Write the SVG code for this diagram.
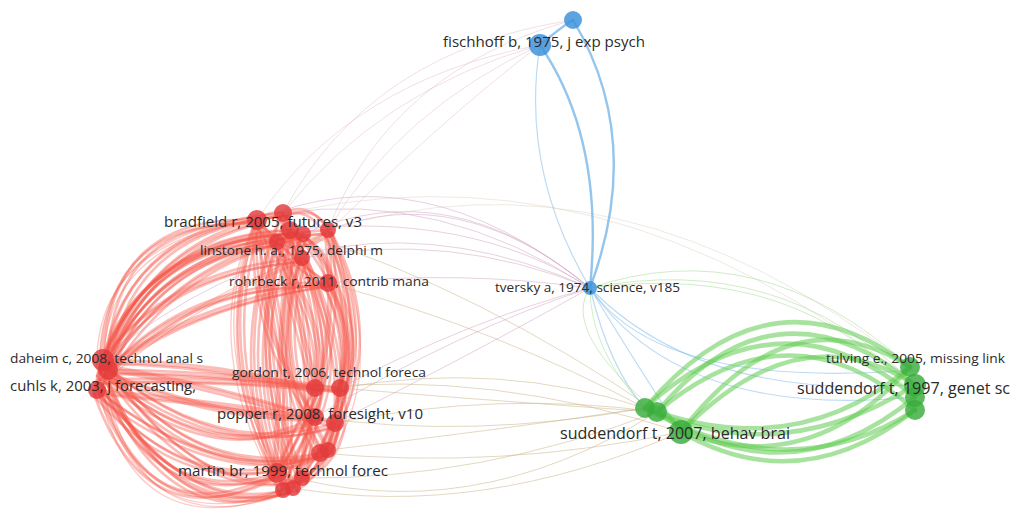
<svg xmlns="http://www.w3.org/2000/svg" width="1011" height="512" viewBox="0 0 1011 512">
  <style>
    .lbl { font-family: "Open Sans", "Liberation Sans", sans-serif; fill: #2b2b2b; }
    .e { fill: none; stroke-linecap: round; }
    .er { stroke: #f4584a; stroke-opacity: 0.4; stroke-width: 2.6; }
    .er2 { stroke: #f4584a; stroke-opacity: 0.3; stroke-width: 1.4; }
    .rb { stroke: #cfa1bf; stroke-opacity: 0.5; stroke-width: 1; }
    .rf { stroke: #dcb2b8; stroke-opacity: 0.4; stroke-width: 1; }
    .rg { stroke: #c8b184; stroke-opacity: 0.5; stroke-width: 1; }
    .rgr { stroke: #d6c7b6; stroke-opacity: 0.4; stroke-width: 1; }
    .bl { stroke: #5aa6e4; stroke-opacity: 0.65; stroke-width: 2.4; }
    .bl2 { stroke: #86bde9; stroke-opacity: 0.55; stroke-width: 1.2; }
    .gt { stroke: #a8dc98; stroke-opacity: 0.55; stroke-width: 1; }
    .gg { stroke: #5fcc4e; stroke-opacity: 0.55; stroke-width: 4.5; }
    .nr { fill: #e23a3c; fill-opacity: 0.82; }
    .nb { fill: #3f93dc; fill-opacity: 0.85; }
    .ng { fill: #38ac3c; fill-opacity: 0.82; }
  </style>

  <defs>
    <g id="red-bundle">
      <!-- daheim/cuhls to the upper group -->
      <path class="e er" d="M103,360 Q110,213 257,220"/>
      <path class="e er" d="M105,365 Q125,225 283,213"/>
      <path class="e er" d="M100,372 Q140,240 290,230"/>
      <path class="e er" d="M108,370 Q150,255 277,242"/>
      <path class="e er" d="M97,390 Q120,240 303,234"/>
      <path class="e er" d="M103,360 Q165,270 302,258"/>
      <path class="e er" d="M105,368 Q160,240 328,230"/>
      <path class="e er" d="M100,380 Q180,280 328,283"/>
      <path class="e er" d="M108,365 Q200,300 328,283"/>
      <path class="e er" d="M97,388 Q135,250 257,220"/>
      <path class="e er" d="M103,362 Q150,235 290,230"/>
      <path class="e er" d="M106,372 Q175,260 303,234"/>
      <path class="e er2" d="M100,366 Q95,230 283,213"/>
      <path class="e er2" d="M104,376 Q190,300 302,258"/>
      <!-- daheim/cuhls to martin group -->
      <path class="e er" d="M97,390 Q150,540 277,473"/>
      <path class="e er" d="M103,375 Q170,530 283,490"/>
      <path class="e er" d="M100,385 Q185,520 293,488"/>
      <path class="e er" d="M108,370 Q200,500 302,478"/>
      <path class="e er" d="M103,360 Q190,480 320,453"/>
      <path class="e er" d="M97,392 Q200,510 328,450"/>
      <path class="e er" d="M105,380 Q160,510 277,473"/>
      <path class="e er" d="M100,372 Q215,470 315,417"/>
      <path class="e er" d="M108,368 Q220,460 335,423"/>
      <path class="e er" d="M97,390 Q220,485 320,453"/>
      <path class="e er2" d="M100,378 Q135,545 283,490"/>
      <!-- daheim/cuhls to gordon/popper -->
      <path class="e er" d="M103,360 Q210,360 315,388"/>
      <path class="e er" d="M108,370 Q220,370 340,388"/>
      <path class="e er" d="M97,390 Q210,400 315,417"/>
      <path class="e er" d="M105,365 Q220,385 335,423"/>
      <path class="e er" d="M100,380 Q210,375 340,388"/>
      <path class="e er" d="M108,372 Q210,415 315,417"/>
      <!-- upper group to lower groups -->
      <path class="e er" d="M257,220 Q215,350 277,473"/>
      <path class="e er" d="M283,213 Q225,350 283,490"/>
      <path class="e er" d="M290,230 Q240,360 293,488"/>
      <path class="e er" d="M277,242 Q250,360 302,478"/>
      <path class="e er" d="M303,234 Q260,350 320,453"/>
      <path class="e er" d="M302,258 Q270,360 328,450"/>
      <path class="e er" d="M328,230 Q370,350 320,453"/>
      <path class="e er" d="M328,283 Q370,380 302,478"/>
      <path class="e er" d="M290,230 Q360,360 328,450"/>
      <path class="e er" d="M283,213 Q350,340 315,417"/>
      <path class="e er" d="M257,220 Q330,320 315,388"/>
      <path class="e er" d="M303,234 Q370,320 340,388"/>
      <path class="e er" d="M328,230 Q380,330 335,423"/>
      <path class="e er" d="M277,242 Q300,330 315,388"/>
      <path class="e er" d="M257,220 Q250,330 315,417"/>
      <path class="e er" d="M290,230 Q280,350 277,473"/>
      <path class="e er" d="M328,283 Q355,340 340,388"/>
      <path class="e er" d="M302,258 Q340,370 293,488"/>
      <path class="e er" d="M283,213 Q320,360 302,478"/>
      <path class="e er" d="M257,220 Q300,400 283,490"/>
      <path class="e er" d="M328,230 Q345,380 277,473"/>
      <path class="e er2" d="M257,220 Q200,340 283,490"/>
      <path class="e er2" d="M328,230 Q385,360 328,450"/>
      <!-- lower group internals -->
      <path class="e er" d="M315,388 Q290,440 277,473"/>
      <path class="e er" d="M340,388 Q350,450 302,478"/>
      <path class="e er" d="M335,423 Q330,460 293,488"/>
      <path class="e er" d="M315,417 Q300,450 283,490"/>
      <!-- upper group internals -->
      <path class="e er" d="M257,220 Q270,210 283,213"/>
      <path class="e er" d="M257,220 Q290,260 328,230"/>
      <path class="e er" d="M283,213 Q310,200 328,230"/>
      <path class="e er" d="M277,242 Q300,265 328,283"/>
      <path class="e er" d="M290,230 Q330,245 328,283"/>
    </g>
  </defs>

  <g id="connectors">
    <use href="#red-bundle"/>
    <use href="#red-bundle" transform="translate(4,3)"/>
    <use href="#red-bundle" transform="translate(-3,4)"/>

    <!-- red to tversky -->
    <path class="e rb" d="M328,230 Q460,180 590,288"/>
    <path class="e rb" d="M303,234 Q450,170 590,288"/>
    <path class="e rb" d="M257,220 Q420,150 590,288"/>
    <path class="e rb" d="M328,283 Q460,270 590,288"/>
    <path class="e rb" d="M302,258 Q450,230 590,288"/>
    <path class="e rb" d="M340,388 Q470,320 590,288"/>
    <path class="e rb" d="M315,417 Q460,330 590,288"/>
    <path class="e rb" d="M283,213 Q440,190 590,288"/>
    <path class="e rb" d="M290,230 Q470,210 590,288"/>
    <path class="e rb" d="M335,423 Q480,350 590,288"/>
    <path class="e rb" d="M103,360 Q330,170 590,288"/>
    <!-- red to fischhoff -->
    <path class="e rf" d="M283,213 Q380,90 540,45"/>
    <path class="e rf" d="M328,230 Q400,110 540,45"/>
    <path class="e rf" d="M257,220 Q350,80 540,45"/>
    <path class="e rf" d="M302,258 Q440,120 540,45"/>
    <path class="e rf" d="M283,213 Q370,50 573,20"/>
    <path class="e rf" d="M328,230 Q390,70 573,20"/>
    <!-- red to green -->
    <path class="e rg" d="M340,388 Q500,360 645,408"/>
    <path class="e rg" d="M335,423 Q500,390 657,412"/>
    <path class="e rg" d="M328,450 Q500,430 645,408"/>
    <path class="e rg" d="M302,478 Q480,480 657,412"/>
    <path class="e rg" d="M293,488 Q480,520 681,432"/>
    <path class="e rg" d="M320,453 Q500,470 681,432"/>
    <path class="e rg" d="M328,283 Q500,330 645,408"/>
    <path class="e rg" d="M303,234 Q480,290 657,412"/>
    <path class="e rg" d="M315,417 Q470,440 645,408"/>
    <path class="e rg" d="M277,473 Q470,530 657,412"/>
    <path class="e rg" d="M340,388 Q480,400 657,412"/>
    <path class="e rg" d="M315,388 Q490,370 681,432"/>
    <path class="e rgr" d="M328,230 Q620,140 910,367"/>
    <path class="e rgr" d="M257,220 Q600,130 915,385"/>

    <!-- blue -->
    <path class="e bl" d="M540,45 Q605,140 590,288"/>
    <path class="e bl" d="M573,20 Q645,140 590,288"/>
    <path class="e bl" d="M540,45 Q560,28 573,20"/>
    <path class="e bl2" d="M540,45 Q520,170 590,288"/>
    <path class="e bl2" d="M590,288 Q680,420 915,397"/>
    <path class="e bl2" d="M590,288 Q700,400 910,385"/>
    <path class="e bl2" d="M590,288 Q660,390 913,370"/>
    <path class="e bl2" d="M590,288 Q610,370 645,408"/>
    <path class="e bl2" d="M590,288 Q640,370 681,432"/>

    <!-- green thin -->
    <path class="e gt" d="M910,367 Q760,230 590,288"/>
    <path class="e gt" d="M915,385 Q780,250 590,288"/>
    <path class="e gt" d="M915,397 Q800,260 590,288"/>
    <path class="e gt" d="M645,408 Q590,350 590,288"/>
    <path class="e gt" d="M657,412 Q560,330 590,288"/>

    <!-- green bundle -->
    <path class="e gg" d="M645,408 Q770,260 910,367"/>
    <path class="e gg" d="M657,412 Q775,270 915,385"/>
    <path class="e gg" d="M645,408 Q780,285 915,397"/>
    <path class="e gg" d="M681,432 Q790,290 910,367"/>
    <path class="e gg" d="M657,412 Q790,300 915,410"/>
    <path class="e gg" d="M681,432 Q800,310 915,385"/>
    <path class="e gg" d="M681,432 Q800,500 915,410"/>
    <path class="e gg" d="M657,412 Q790,500 915,397"/>
    <path class="e gg" d="M645,408 Q790,490 915,410"/>
    <path class="e gg" d="M681,432 Q810,480 910,367"/>
    <path class="e gg" d="M645,408 Q780,470 915,385"/>
    <path class="e gg" d="M657,412 Q800,460 910,367"/>
    <path class="e gg" d="M645,408 Q660,400 681,432"/>
  </g>

  <!-- red cluster nodes -->
  <g id="n-bradfield"><circle class="nr" cx="257" cy="220" r="10"/><circle class="nr" cx="283" cy="213" r="9"/><circle class="nr" cx="290" cy="230" r="9"/><circle class="nr" cx="277" cy="242" r="8"/><circle class="nr" cx="303" cy="234" r="8"/><circle class="nr" cx="328" cy="230" r="8"/></g>
  <g id="n-linstone"><circle class="nr" cx="302" cy="258" r="8"/></g>
  <g id="n-rohrbeck"><circle class="nr" cx="328" cy="283" r="9"/></g>
  <g id="n-daheim"><circle class="nr" cx="103" cy="360" r="11"/><circle class="nr" cx="108" cy="370" r="10"/></g>
  <g id="n-cuhls"><circle class="nr" cx="97" cy="390" r="9"/></g>
  <g id="n-gordon"><circle class="nr" cx="315" cy="388" r="9"/><circle class="nr" cx="340" cy="388" r="9"/></g>
  <g id="n-popper"><circle class="nr" cx="315" cy="417" r="9"/><circle class="nr" cx="335" cy="423" r="9"/><circle class="nr" cx="320" cy="453" r="9"/><circle class="nr" cx="328" cy="450" r="8"/></g>
  <g id="n-martin"><circle class="nr" cx="277" cy="473" r="10"/><circle class="nr" cx="283" cy="490" r="8"/><circle class="nr" cx="293" cy="488" r="8"/><circle class="nr" cx="302" cy="478" r="8"/></g>
  <!-- blue cluster nodes -->
  <g id="n-fischhoff"><circle class="nb" cx="540" cy="45" r="11"/><circle class="nb" cx="573" cy="20" r="9"/></g>
  <g id="n-tversky"><circle class="nb" cx="590" cy="288" r="7"/></g>
  <!-- green cluster nodes -->
  <g id="n-suddendorf2007"><circle class="ng" cx="645" cy="408" r="10"/><circle class="ng" cx="657" cy="412" r="10"/><circle class="ng" cx="681" cy="432" r="12"/></g>
  <g id="n-tulving"><circle class="ng" cx="910" cy="367" r="10"/></g>
  <g id="n-suddendorf1997"><circle class="ng" cx="915" cy="385" r="11"/><circle class="ng" cx="915" cy="397" r="10"/><circle class="ng" cx="915" cy="410" r="10"/></g>

  <g id="labels">
    <text class="lbl" x="443" y="47" font-size="15" textLength="202" lengthAdjust="spacingAndGlyphs">fischhoff b, 1975, j exp psych</text>
    <text class="lbl" x="164" y="227" font-size="15" textLength="198" lengthAdjust="spacingAndGlyphs">bradfield r, 2005, futures, v3</text>
    <text class="lbl" x="200" y="255" font-size="13.5" textLength="183" lengthAdjust="spacingAndGlyphs">linstone h. a., 1975, delphi m</text>
    <text class="lbl" x="229" y="286" font-size="13.5" textLength="200" lengthAdjust="spacingAndGlyphs">rohrbeck r, 2011, contrib mana</text>
    <text class="lbl" x="495" y="292" font-size="13" textLength="185" lengthAdjust="spacingAndGlyphs">tversky a, 1974, science, v185</text>
    <text class="lbl" x="10" y="363" font-size="13.5" textLength="193" lengthAdjust="spacingAndGlyphs">daheim c, 2008, technol anal s</text>
    <text class="lbl" x="10" y="391" font-size="15" textLength="186" lengthAdjust="spacingAndGlyphs">cuhls k, 2003, j forecasting,</text>
    <text class="lbl" x="232" y="377" font-size="13.5" textLength="194" lengthAdjust="spacingAndGlyphs">gordon t, 2006, technol foreca</text>
    <text class="lbl" x="217" y="419" font-size="15" textLength="206" lengthAdjust="spacingAndGlyphs">popper r, 2008, foresight, v10</text>
    <text class="lbl" x="178" y="476" font-size="14.5" textLength="210" lengthAdjust="spacingAndGlyphs">martin br, 1999, technol forec</text>
    <text class="lbl" x="826" y="363" font-size="13.5" textLength="179" lengthAdjust="spacingAndGlyphs">tulving e., 2005, missing link</text>
    <text class="lbl" x="797" y="394" font-size="16" textLength="213" lengthAdjust="spacingAndGlyphs">suddendorf t, 1997, genet sc</text>
    <text class="lbl" x="560" y="439" font-size="16" textLength="230" lengthAdjust="spacingAndGlyphs">suddendorf t, 2007, behav brai</text>
  </g>
</svg>
